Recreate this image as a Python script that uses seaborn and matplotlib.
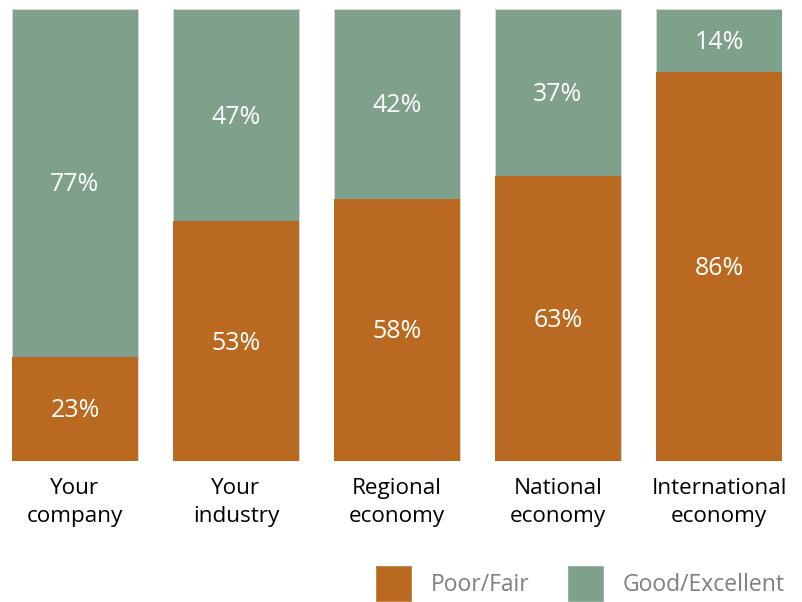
import matplotlib
matplotlib.use("Agg")
import matplotlib.pyplot as plt
from matplotlib.patches import Patch
import seaborn as sns
import pandas as pd

categories = ["Your\ncompany", "Your\nindustry", "Regional\neconomy", "National\neconomy", "International\neconomy"]
poor_fair = [23, 53, 58, 63, 86]
good_excellent = [77, 47, 42, 37, 14]

ORANGE = "#B96A20"
GREEN = "#7FA18C"

sns.set_theme(style="white")
plt.rcParams["font.family"] = ["Open Sans", "DejaVu Sans"]

df = pd.DataFrame({"category": categories, "poor": poor_fair, "good": good_excellent})
df["total"] = df["poor"] + df["good"]

fig = plt.figure(figsize=(8.02, 6.02), dpi=100)
ax = fig.add_axes([12 / 802, 141 / 602, 770 / 802, 452 / 602])

sns.barplot(data=df, x="category", y="total", color=GREEN, saturation=1,
            width=0.783, ax=ax, edgecolor="#d9d9d9", linewidth=0.6)
sns.barplot(data=df, x="category", y="poor", color=ORANGE, saturation=1,
            width=0.783, ax=ax, edgecolor="none", linewidth=0)

for i, (p, g) in enumerate(zip(poor_fair, good_excellent)):
    ax.text(i, p / 2 - 0.4, f"{p}%", ha="center", va="center", color="white", fontsize=18)
    ax.text(i, p + g / 2 - 0.4, f"{g}%", ha="center", va="center", color="white", fontsize=18)

ax.set_xlim(-0.391, 4.391)
ax.set_ylim(0, 100)
ax.set_xlabel("")
ax.set_ylabel("")
ax.set_yticks([])
ax.tick_params(axis="x", length=0, pad=12.5, labelsize=16.2, labelcolor="black")
for lbl in ax.get_xticklabels():
    lbl.set_linespacing(1.42)
sns.despine(ax=ax, left=True, bottom=True)

handles = [Patch(facecolor=ORANGE, label="Poor/Fair"),
           Patch(facecolor=GREEN, label="Good/Excellent")]
leg = fig.legend(handles=handles, loc="lower right", bbox_to_anchor=(1.004, -0.034),
                 ncol=2, frameon=False, fontsize=16.5, handlelength=1.615, handleheight=2.11,
                 handletextpad=0.83, columnspacing=1.6, labelcolor="#7F7F7F")

fig.savefig("out.png", dpi=100)
